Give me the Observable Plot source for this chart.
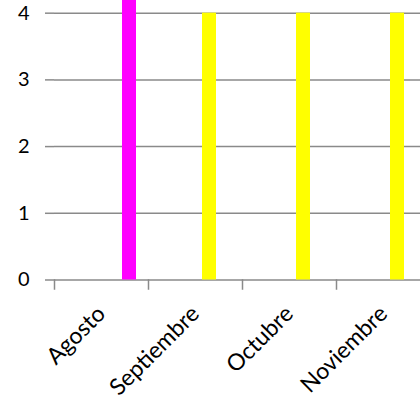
<!DOCTYPE html>
<html><head><meta charset="utf-8">
<script src="https://cdn.jsdelivr.net/npm/d3@7"></script>
<script src="https://cdn.jsdelivr.net/npm/@observablehq/plot@0.6"></script>
<style>
html,body{margin:0;padding:0;background:#fff;overflow:hidden;}
</style></head><body><div id="chart"></div>
<script>
const months = ["Agosto", "Septiembre", "Octubre", "Noviembre"];
const series = ["Serie 1", "Serie 2", "Serie 3", "Serie 4", "Serie 5"];
const serie4 = [0, 4, 4, 4];      // yellow bars
const serie5 = [5, 0, 0, 0];      // magenta bar (runs past the top of the visible chart)
const colorDomain = ["Serie 4", "Serie 5"];
const colorRange = ["#ffff00", "#ff00ff"];
const yTicks = [0, 1, 2, 3, 4];

const rows = [];
months.forEach((m, i) => {
  if (serie4[i]) rows.push({month: m, series: "Serie 4", value: serie4[i]});
  if (serie5[i]) rows.push({month: m, series: "Serie 5", value: serie5[i]});
});

const grey = "#8a8a8a";
const chart = Plot.plot({
  width: 420,
  height: 401,
  marginTop: 0,
  marginLeft: 53,
  marginRight: -10,
  marginBottom: 121.5,
  style: {fontFamily: "Lato, sans-serif", fontSize: "20px", color: "#000", background: "#fff"},
  fx: {domain: months, padding: 0, label: null},
  x: {domain: series, paddingInner: 0, paddingOuter: 0.75, axis: null},
  y: {domain: [0, 4.19], label: null},
  color: {domain: colorDomain, range: colorRange},
  marks: [
    Plot.gridY(yTicks, {stroke: grey, strokeOpacity: 1, strokeWidth: 1.5}),
    Plot.barY(rows, {fx: "month", x: "series", y: "value", fill: "series"}),
    Plot.frame({anchor: "left", stroke: grey, strokeWidth: 1.5, insetTop: 279.5, insetBottom: -9}),
    Plot.axisY(yTicks, {tickSize: 9, tickPadding: 16, stroke: grey, strokeWidth: 1.5, fill: "#000", line: true, label: null, tickFormat: d => String(d), fontSize: 20}),
    Plot.axisFx({anchor: "bottom", tickSize: 0, tickRotate: -45, textAnchor: "end", lineAnchor: "middle", tickPadding: 30, dx: 0, fill: "#000", label: null, fontSize: 23})
  ]
});
document.getElementById("chart").appendChild(chart);
</script>
</body></html>
